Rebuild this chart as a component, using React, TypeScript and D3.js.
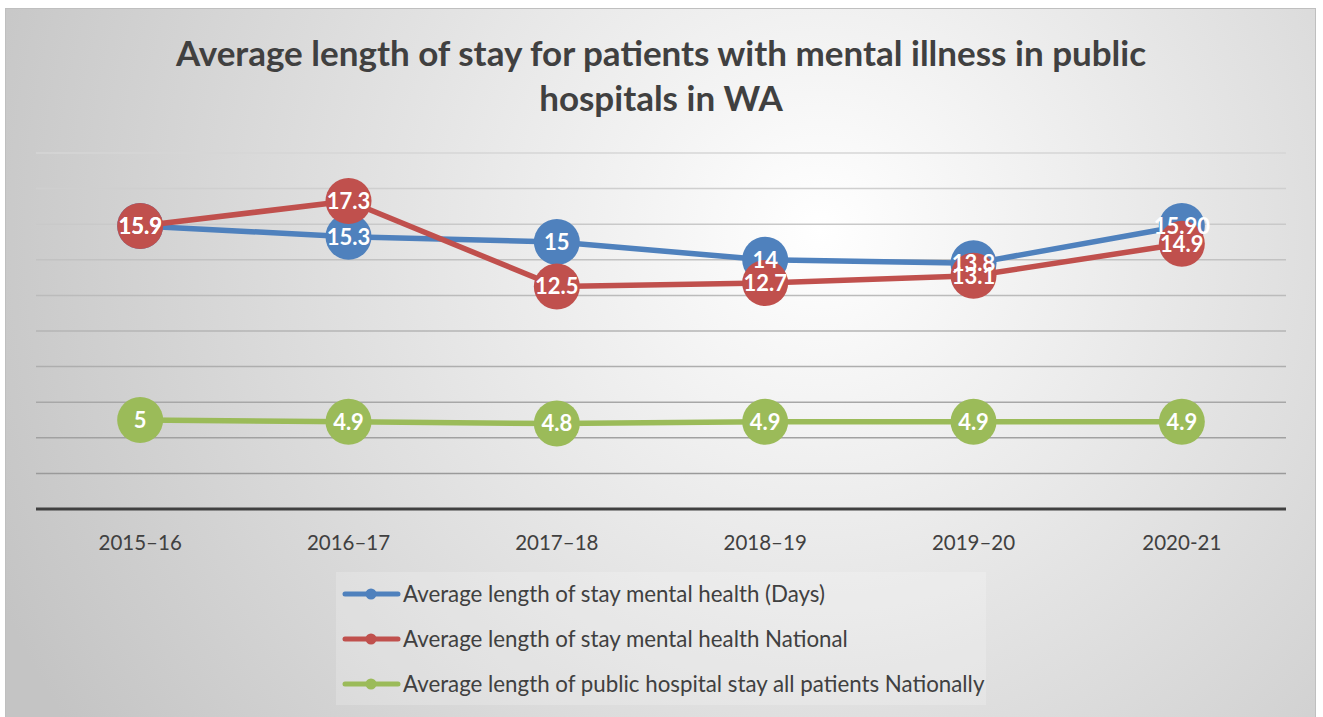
import { useRef, useEffect } from "react";
import * as d3 from "d3";

// Chart data
const periods = ["2015–16", "2016–17", "2017–18", "2018–19", "2019–20", "2020-21"];
const waMental = [15.9, 15.3, 15, 14, 13.8, 15.9];
const waMentalLabels = ["15.9", "15.3", "15", "14", "13.8", "15.90"];
const nationalMental = [15.9, 17.3, 12.5, 12.7, 13.1, 14.9];
const nationalMentalLabels = ["15.9", "17.3", "12.5", "12.7", "13.1", "14.9"];
const allPatients = [5, 4.9, 4.8, 4.9, 4.9, 4.9];
const allPatientsLabels = ["5", "4.9", "4.8", "4.9", "4.9", "4.9"];
const seriesNames = [
  "Average length of stay mental health (Days)",
  "Average length of stay mental health National",
  "Average length of public hospital stay all patients Nationally",
];
const yTicks = [2, 4, 6, 8, 10, 12, 14, 16, 18, 20];

const W = 1323;
const H = 717;
const FONT = "Lato, 'Open Sans', sans-serif";

const App = () => {
  const svgRef = useRef<SVGSVGElement | null>(null);

  useEffect(() => {
    const svg = d3.select(svgRef.current);
    svg.selectAll("*").remove();

    // background gradient
    const defs = svg.append("defs");
    const grad = defs
      .append("radialGradient")
      .attr("id", "bg")
      .attr("gradientUnits", "userSpaceOnUse")
      .attr("cx", 820)
      .attr("cy", 230)
      .attr("r", 900);
    grad.append("stop").attr("offset", "0%").attr("stop-color", "#ffffff");
    grad.append("stop").attr("offset", "100%").attr("stop-color", "#c4c4c4");

    svg
      .append("rect")
      .attr("x", 5.5)
      .attr("y", 8.5)
      .attr("width", 1310)
      .attr("height", 720)
      .attr("fill", "url(#bg)")
      .attr("stroke", "#bfbfbf")
      .attr("stroke-width", 1);

    // title
    const title = svg
      .append("text")
      .attr("text-anchor", "middle")
      .attr("font-family", FONT)
      .attr("font-weight", "bold")
      .attr("font-size", 35)
      .attr("fill", "#404040");
    title.append("tspan").attr("x", 661).attr("y", 66).text("Average length of stay for patients with mental illness in public");
    title.append("tspan").attr("x", 661).attr("y", 111).text("hospitals in WA");

    const x = d3.scaleBand().domain(periods).range([36, 1286]);
    const y = d3.scaleLinear().domain([0, 20]).range([509, 153]);
    const cx = (i: number) => (x(periods[i]) as number) + x.bandwidth() / 2;

    // gridlines
    const gridColor = d3.scaleLinear<string>().domain([20, 2]).range(["#d6d6d6", "#9a9a9a"]);
    svg
      .append("g")
      .selectAll("line")
      .data(yTicks)
      .join("line")
      .attr("x1", 36)
      .attr("x2", 1286)
      .attr("y1", (d) => y(d))
      .attr("y2", (d) => y(d))
      .attr("stroke", (d) => gridColor(d))
      .attr("stroke-width", 1.5);

    // x axis
    svg
      .append("line")
      .attr("x1", 36)
      .attr("x2", 1286)
      .attr("y1", y(0))
      .attr("y2", y(0))
      .attr("stroke", "#404040")
      .attr("stroke-width", 3);

    svg
      .append("g")
      .selectAll("text")
      .data(periods)
      .join("text")
      .attr("x", (d, i) => cx(i))
      .attr("y", 550)
      .attr("text-anchor", "middle")
      .attr("font-family", FONT)
      .attr("font-size", 20.5)
      .attr("fill", "#404040")
      .text((d) => d);

    const series = [
      { values: waMental, labels: waMentalLabels, color: "#4f81bd" },
      { values: nationalMental, labels: nationalMentalLabels, color: "#c0504d" },
      { values: allPatients, labels: allPatientsLabels, color: "#9bbb59" },
    ];

    const lineGen = d3
      .line<number>()
      .x((d, i) => cx(i))
      .y((d) => y(d));

    series.forEach((s) => {
      svg
        .append("path")
        .attr("d", lineGen(s.values))
        .attr("fill", "none")
        .attr("stroke", s.color)
        .attr("stroke-width", 5.5)
        .attr("stroke-linejoin", "round");
      svg
        .append("g")
        .selectAll("circle")
        .data(s.values)
        .join("circle")
        .attr("cx", (d, i) => cx(i))
        .attr("cy", (d) => y(d))
        .attr("r", 23)
        .attr("fill", s.color);
    });

    series.forEach((s) => {
      svg
        .append("g")
        .selectAll("text")
        .data(s.values)
        .join("text")
        .attr("x", (d, i) => cx(i))
        .attr("y", (d) => y(d))
        .attr("dy", "0.36em")
        .attr("text-anchor", "middle")
        .attr("font-family", FONT)
        .attr("font-weight", "bold")
        .attr("font-size", 22)
        .attr("fill", "#ffffff")
        .text((d, i) => s.labels[i]);
    });

    // legend
    const legend = svg.append("g");
    legend
      .append("rect")
      .attr("x", 336)
      .attr("y", 572)
      .attr("width", 650)
      .attr("height", 133)
      .attr("fill", "#ffffff")
      .attr("fill-opacity", 0.2);

    const legendY = d3.scalePoint().domain(seriesNames).range([594, 684]);
    seriesNames.forEach((name, i) => {
      const ly = legendY(name) as number;
      legend
        .append("line")
        .attr("x1", 345)
        .attr("x2", 398)
        .attr("y1", ly)
        .attr("y2", ly)
        .attr("stroke", series[i].color)
        .attr("stroke-width", 5)
        .attr("stroke-linecap", "round");
      legend.append("circle").attr("cx", 371).attr("cy", ly).attr("r", 5.5).attr("fill", series[i].color);
      legend
        .append("text")
        .attr("x", 403)
        .attr("y", ly)
        .attr("dy", "0.35em")
        .attr("font-family", FONT)
        .attr("font-size", 22.3)
        .attr("fill", "#404040")
        .text(name);
    });
  }, []);

  return <svg ref={svgRef} width={W} height={H} style={{ position: "absolute", left: 0, top: 0 }} />;
};

export default App;
